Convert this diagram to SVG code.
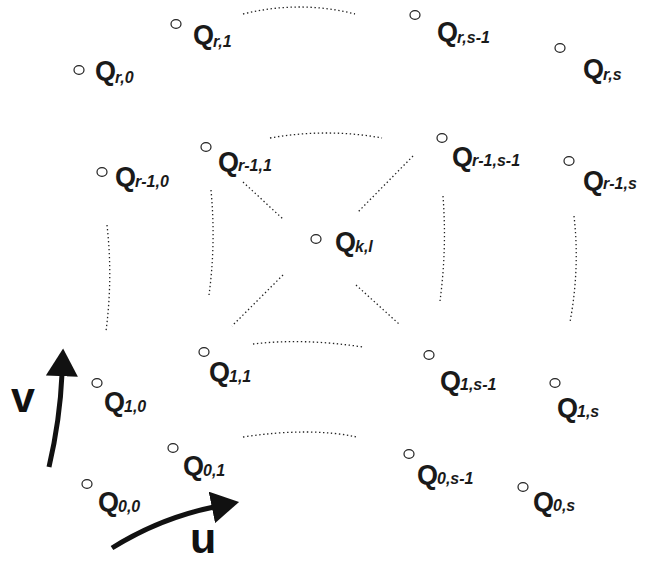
<svg xmlns="http://www.w3.org/2000/svg" width="647" height="561" viewBox="0 0 647 561">
<style>
.pt{fill:#fff;stroke:#222;stroke-width:1.2}
.q{font-family:"Liberation Sans",Arial,sans-serif;font-weight:bold;font-size:27px;fill:#1a1a1a}
.s{font-family:"Liberation Sans",Arial,sans-serif;font-weight:bold;font-style:italic;font-size:16px;fill:#1a1a1a}
.dot{fill:none;stroke:#222;stroke-width:1.3;stroke-dasharray:1.4 2.6}
.arr{fill:none;stroke:#111;stroke-width:5}
.lbl{font-family:"Liberation Sans",Arial,sans-serif;font-weight:bold;font-size:43px;fill:#111}
</style>
<defs>
<marker id="head" markerUnits="userSpaceOnUse" markerWidth="28" markerHeight="32" viewBox="0 0 26 30" refX="2" refY="15" orient="auto">
<path d="M0,0 L26,15 L0,30 z" fill="#111"/>
</marker>
</defs>
<rect width="647" height="561" fill="#fff"/>
<g id="connectors">
<path class="dot" d="M243,14 Q300,0 355,14"/>
<path class="dot" d="M270,138 Q327,128 382,138"/>
<path class="dot" d="M253,344 Q303,338 363,347"/>
<path class="dot" d="M243,437 Q310,427 357,437"/>
<path class="dot" d="M107,225 Q113,278 106,331"/>
<path class="dot" d="M211,190 Q216,243 209,295"/>
<path class="dot" d="M443,196 Q447,248 440,301"/>
<path class="dot" d="M574,216 Q580,268 570,322"/>
<path class="dot" d="M243,182 L284,220"/>
<path class="dot" d="M413,156 L357,213"/>
<path class="dot" d="M283,275 L232,326"/>
<path class="dot" d="M356,285 L399,324"/>
<path class="arr" d="M49,467 Q60,420 62,374" marker-end="url(#head)"/>
<path class="arr" d="M112,548 Q160,518 214,507" marker-end="url(#head)"/>
</g>
<g id="label-v"><text class="lbl" x="11" y="412">v</text></g>
<g id="label-u"><text class="lbl" x="190" y="553">u</text></g>
<g id="Q_r0"><ellipse class="pt" cx="79" cy="70" rx="5" ry="4.3"/><text x="95" y="80"><tspan class="q">Q</tspan><tspan class="s" dy="3" dx="-1">r,0</tspan></text></g>
<g id="Q_r1"><ellipse class="pt" cx="176" cy="24" rx="5" ry="4.3"/><text x="193" y="44"><tspan class="q">Q</tspan><tspan class="s" dy="3" dx="-1">r,1</tspan></text></g>
<g id="Q_rs1"><ellipse class="pt" cx="415" cy="15" rx="5" ry="4.3"/><text x="437" y="41"><tspan class="q">Q</tspan><tspan class="s" dy="2" dx="-1">r,s-1</tspan></text></g>
<g id="Q_rs"><ellipse class="pt" cx="560" cy="48" rx="5" ry="4.3"/><text x="583" y="78"><tspan class="q">Q</tspan><tspan class="s" dy="2" dx="-1">r,s</tspan></text></g>
<g id="Q_r10"><ellipse class="pt" cx="102" cy="172" rx="5" ry="4.3"/><text x="115" y="186"><tspan class="q">Q</tspan><tspan class="s" dy="1" dx="-1">r-1,0</tspan></text></g>
<g id="Q_r11"><ellipse class="pt" cx="206" cy="147" rx="5" ry="4.3"/><text x="218" y="171"><tspan class="q">Q</tspan><tspan class="s" dy="0" dx="-1">r-1,1</tspan></text></g>
<g id="Q_r1s1"><ellipse class="pt" cx="442" cy="138" rx="5" ry="4.3"/><text x="452" y="166"><tspan class="q">Q</tspan><tspan class="s" dy="0" dx="-1">r-1,s-1</tspan></text></g>
<g id="Q_r1s"><ellipse class="pt" cx="569" cy="161" rx="5" ry="4.3"/><text x="583" y="190"><tspan class="q">Q</tspan><tspan class="s" dy="-1" dx="-1">r-1,s</tspan></text></g>
<g id="Q_kl"><ellipse class="pt" cx="316" cy="239" rx="5" ry="4.3"/><text x="335" y="251"><tspan class="q">Q</tspan><tspan class="s" dy="1" dx="-1">k,l</tspan></text></g>
<g id="Q_11"><ellipse class="pt" cx="204" cy="352" rx="5" ry="4.3"/><text x="209" y="381"><tspan class="q">Q</tspan><tspan class="s" dy="1" dx="-1">1,1</tspan></text></g>
<g id="Q_10"><ellipse class="pt" cx="97" cy="383" rx="5" ry="4.3"/><text x="104" y="411"><tspan class="q">Q</tspan><tspan class="s" dy="1" dx="-1">1,0</tspan></text></g>
<g id="Q_01"><ellipse class="pt" cx="173" cy="448" rx="5" ry="4.3"/><text x="183" y="475"><tspan class="q">Q</tspan><tspan class="s" dy="1" dx="-1">0,1</tspan></text></g>
<g id="Q_00"><ellipse class="pt" cx="87" cy="484" rx="5" ry="4.3"/><text x="98" y="511"><tspan class="q">Q</tspan><tspan class="s" dy="1" dx="-1">0,0</tspan></text></g>
<g id="Q_1s1"><ellipse class="pt" cx="429" cy="355" rx="5" ry="4.3"/><text x="440" y="390"><tspan class="q">Q</tspan><tspan class="s" dy="0" dx="-1">1,s-1</tspan></text></g>
<g id="Q_1s"><ellipse class="pt" cx="555" cy="383" rx="5" ry="4.3"/><text x="557" y="417"><tspan class="q">Q</tspan><tspan class="s" dy="0" dx="-1">1,s</tspan></text></g>
<g id="Q_0s1"><ellipse class="pt" cx="409" cy="454" rx="5" ry="4.3"/><text x="417" y="484"><tspan class="q">Q</tspan><tspan class="s" dy="0" dx="-1">0,s-1</tspan></text></g>
<g id="Q_0s"><ellipse class="pt" cx="523" cy="487" rx="5" ry="4.3"/><text x="533" y="511"><tspan class="q">Q</tspan><tspan class="s" dy="0" dx="-1">0,s</tspan></text></g>
</svg>
